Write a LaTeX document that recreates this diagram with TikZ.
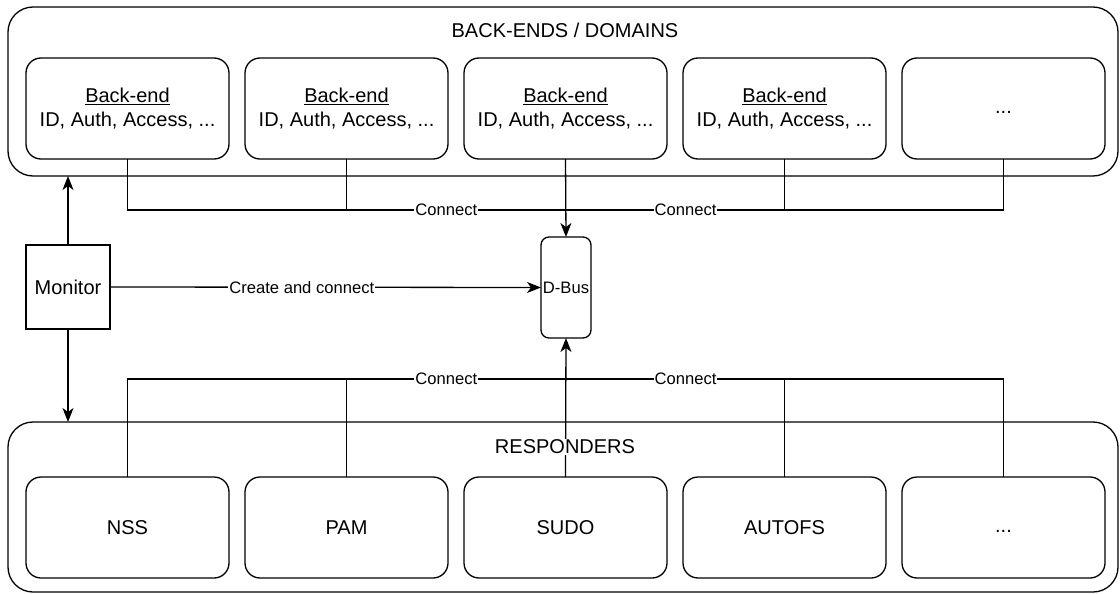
\documentclass[tikz,border=0pt]{standalone}
\usepackage{fontspec}
\setmainfont{Liberation Sans}
\usetikzlibrary{arrows.meta}
\begin{document}
\begin{tikzpicture}[x=1pt,y=-1pt,
  line width=1.3pt,
  every node/.style={font=\fontsize{20}{24}\selectfont, outer sep=0pt, inner sep=2pt},
  container/.style={draw, rounded corners=25pt, minimum width=1110pt, outer sep=0pt},
  box/.style={draw, rounded corners=15pt, minimum width=203pt, minimum height=101pt, align=center},
  lbl/.style={font=\fontsize{16.6}{20}\selectfont, fill=white, inner sep=1pt},
  arr/.style={-{Stealth[length=14pt,width=11pt,inset=4pt]}}
]
\useasboundingbox (0,0) rectangle (1120,594);
% containers
\node[container, minimum height=169pt] (top) at (563,91.5) {};
\node[container, minimum height=170pt] (bot) at (563,507) {};
\node (toptitle) at (565,30) {BACK-ENDS / DOMAINS};
% back-ends
\node[box] (be1) at (127.5,108.5) {\underline{Back-end}\\ID, Auth, Access, ...};
\node[box] (be2) at (346.5,108.5) {\underline{Back-end}\\ID, Auth, Access, ...};
\node[box] (be3) at (565.5,108.5) {\underline{Back-end}\\ID, Auth, Access, ...};
\node[box] (be4) at (784.5,108.5) {\underline{Back-end}\\ID, Auth, Access, ...};
\node[box] (be5) at (1003.5,108.5) {\strut...};
% responders
\node[box] (rs1) at (127.5,527.5) {NSS};
\node[box] (rs2) at (346.5,527.5) {PAM};
\node[box] (rs3) at (565.5,527.5) {SUDO};
\node[box] (rs4) at (784.5,527.5) {AUTOFS};
\node[box] (rs5) at (1003.5,527.5) {\strut...};
% D-Bus and monitor
\node[draw, rounded corners=8pt, minimum width=50pt, minimum height=101pt, inner sep=0pt, font=\fontsize{16.6}{20}\selectfont] (dbus) at (566,287.5) {D-Bus};
\node[draw, minimum width=84pt, minimum height=84pt, inner sep=0pt] (mon) at (68,287) {Monitor};
\coordinate (topbus) at (565.5,210);
\coordinate (botbus) at (565.5,379);
% back-end connections
\draw (be2.south) |- (topbus);
\draw (be4.south) |- (topbus);
\draw[arr] (be3.south) -- (dbus.north);
\draw (be1.south) |- node[lbl, pos=0.864] {Connect} (topbus);
\draw (be5.south) |- node[lbl, pos=0.863] {Connect} (topbus);
% responder connections
\draw (rs2.north) |- (botbus);
\draw (rs4.north) |- (botbus);
\draw[arr] (rs3.north) -- (dbus.south);
\draw (rs1.north) |- node[lbl, pos=0.864] {Connect} (botbus);
\draw (rs5.north) |- node[lbl, pos=0.863] {Connect} (botbus);
\node[fill=white, inner sep=1pt] (bottitle) at (565,447) {RESPONDERS};
% monitor
\draw[arr] (mon.north) -- (mon.north |- top.south);
\draw[arr] (mon.south) -- (mon.south |- bot.north);
\draw[arr] (mon.east) -- node[lbl, pos=0.445] {Create and connect} (dbus.west);
\end{tikzpicture}
\end{document}
